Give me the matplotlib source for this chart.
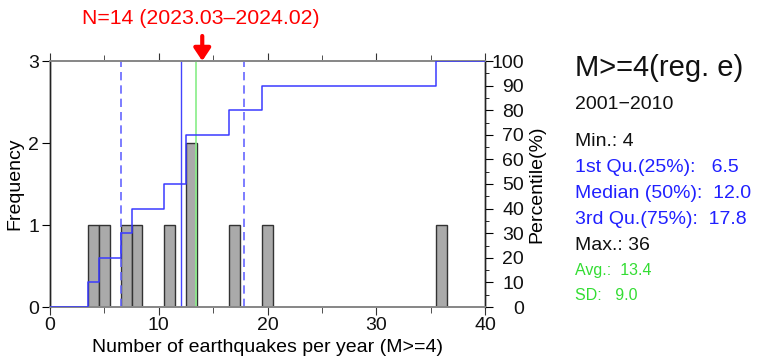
import matplotlib
matplotlib.use("Agg")
import matplotlib.pyplot as plt
from matplotlib.ticker import MultipleLocator
import numpy as np

plt.rcParams['font.family'] = ['Liberation Sans', 'DejaVu Sans']

# Data
bin_centers = [4, 5, 7, 8, 11, 13, 17, 20, 36]
counts = [1, 1, 1, 1, 1, 2, 1, 1, 1]
q1, median, q3 = 6.5, 12.0, 17.8
avg = 13.4
current_n = 14
title_text = "N=14 (2023.03\u20132024.02)"
stats_lines = [
    ("Min.: 4", "#111111"),
    ("1st Qu.(25%):   6.5", "#2020ff"),
    ("Median (50%):  12.0", "#2020ff"),
    ("3rd Qu.(75%):  17.8", "#2020ff"),
    ("Max.: 36", "#111111"),
]
small_lines = [("Avg.:  13.4", "#33dd33"), ("SD:   9.0", "#33dd33")]

W, H = 764, 359
fig = plt.figure(figsize=(W / 100, H / 100), dpi=100)
ax = fig.add_axes([50 / W, 1 - 307 / H, (485 - 50) / W, (307 - 61) / H])
ax2 = ax.twinx()

# histogram bars
ax.bar(bin_centers, counts, width=1.0, color="#aaaaaa", edgecolor="#333333", linewidth=1.0, zorder=2)
ax.set_xlim(0, 40)
ax.set_ylim(0, 3)

# vertical lines
ax.plot([q1, q1], [0, 3], color="#6666ff", lw=1.2, ls=(0, (5, 3)), zorder=3)
ax.plot([q3, q3], [0, 3], color="#6666ff", lw=1.2, ls=(0, (5, 3)), zorder=3)
ax.plot([median, median], [0, 3], color="#4444ff", lw=1.0, zorder=3)
ax.plot([avg, avg], [0, 3], color="#88ee88", lw=1.2, zorder=3)

# cumulative percentile step line
total = sum(counts)
cum = np.cumsum(counts) / total * 100
sx = [0] + [c - 0.5 for c in bin_centers] + [40]
sy = [0] + list(cum) + [cum[-1]]
ax2.step(sx, sy, where="post", color="#3a3aff", lw=1.1, zorder=4)
ax2.set_ylim(0, 100)
ax2.set_xlim(0, 40)

# spines
for a in (ax, ax2):
    a.spines['top'].set_color("#888888")
    a.spines['bottom'].set_color("#888888")
    a.spines['left'].set_color("#222222")
    a.spines['right'].set_color("#222222")
    a.spines['left'].set_linewidth(1.0)
    a.spines['right'].set_linewidth(1.0)
    a.spines['top'].set_linewidth(1.3)
    a.spines['bottom'].set_linewidth(1.3)

ax.xaxis.set_major_locator(MultipleLocator(10))
ax.xaxis.set_minor_locator(MultipleLocator(5))
ax.yaxis.set_major_locator(MultipleLocator(1))
ax.tick_params(axis='x', which='both', top=True, bottom=True, direction='out', labelsize=14, colors='#333333', labelcolor='#111111', pad=1)
ax.tick_params(axis='x', which='major', length=6)
ax.tick_params(axis='x', which='minor', length=4)
ax.tick_params(axis='y', which='major', length=6, labelsize=14, pad=2, labelcolor='#111111')
ax2.yaxis.set_major_locator(MultipleLocator(10))
ax2.yaxis.set_minor_locator(MultipleLocator(5))
ax2.tick_params(axis='y', which='major', length=6, labelsize=14, labelcolor='#111111')
ax2.tick_params(axis='y', which='minor', length=3)
for lab in ax2.get_yticklabels():
    lab.set_horizontalalignment('right')
ax2.tick_params(axis='y', which='major', pad=22)

ax.set_xlabel("Number of earthquakes per year (M>=4)", fontsize=14, labelpad=4)
ax.set_ylabel("Frequency", fontsize=14, labelpad=3)
ax2.set_ylabel("Percentile(%)", fontsize=14, labelpad=3)

# title and arrow
fig.text(201 / W, 1 - 18 / H, title_text, color="red", fontsize=15.3, ha="center", va="center")
ax.annotate("", xy=(current_n, 3), xycoords="data",
            xytext=(current_n, 3 + 25 / 246 * 3), textcoords="data",
            arrowprops=dict(arrowstyle="-|>,head_length=0.75,head_width=0.5", color="red", lw=3, shrinkA=0, shrinkB=0),
            annotation_clip=False)

# right side text
fig.text(575 / W, 1 - 68 / H, "M>=4(reg. e)", fontsize=21, ha="left", va="center", color="#111111")
fig.text(575 / W, 1 - 104 / H, "2001\u22122010", fontsize=14, ha="left", va="center", color="#111111")
ys = [142, 168, 194, 220, 245]
for (t, c), y in zip(stats_lines, ys):
    fig.text(575 / W, 1 - y / H, t, fontsize=14, color=c, ha="left", va="center")
for (t, c), y in zip(small_lines, [270, 296]):
    fig.text(575 / W, 1 - y / H, t, fontsize=11.5, color=c, ha="left", va="center")

fig.savefig("out.png", dpi=100)
